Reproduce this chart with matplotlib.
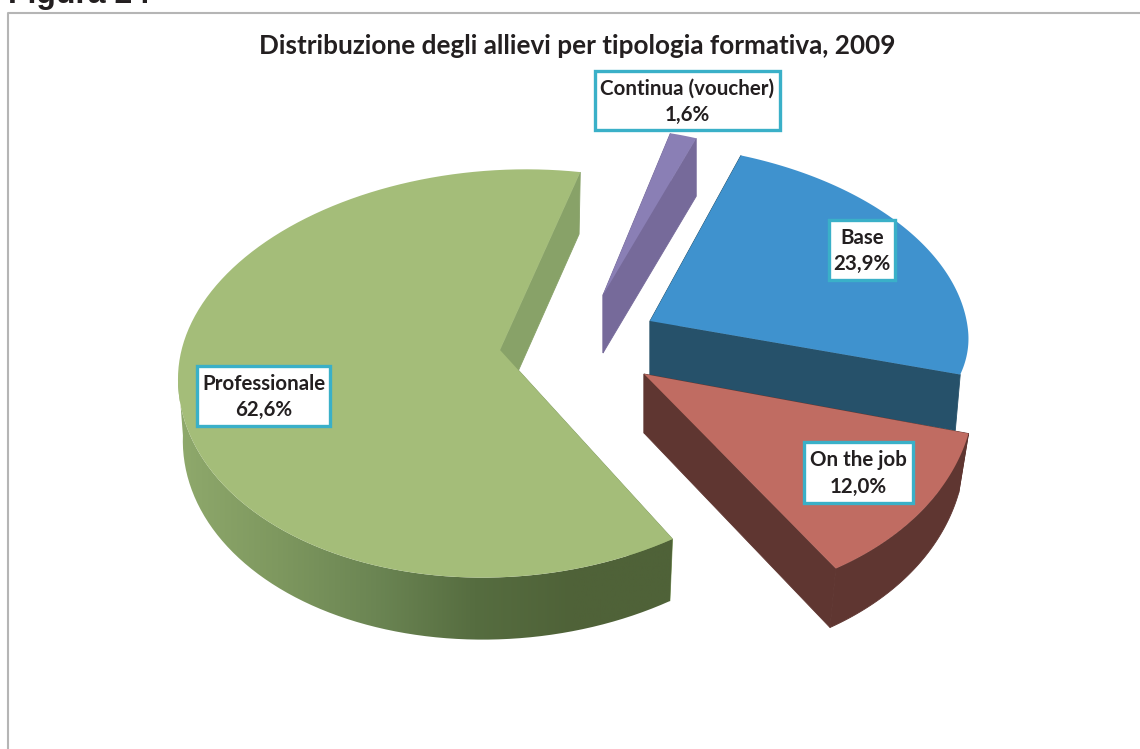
import matplotlib
matplotlib.use("Agg")
import matplotlib.pyplot as plt
import numpy as np
from matplotlib.colors import LinearSegmentedColormap
from matplotlib.patches import Polygon, Rectangle

# data
categories = ["Base", "On the job", "Professionale", "Continua (voucher)"]
shares = [23.9, 12.0, 62.6, 1.6]
title = "Distribuzione degli allievi per tipologia formativa, 2009"
figure_label = "Figura 24"

# look of each slice, same order as categories
apex_xy = [(650, 321), (644, 374), (500, 350), (603, 295)]
rim_center = [(650, 330), (644, 369), (503, 365), (603, 295)]
radius_x = [318, 330, 325, 270]
radius_back = [186, 184, 195, 167]
radius_front = [160, 232, 212, 227]
shear = [0.108, 0.117, 0.02, 0.0]
tilt = [0.0, 0.0, -0.05, 0.0]
depth = [56, 59, 62, 58]
taper = [0.016, 0.03, 0.015, 0.0]
show_wall = [False, True, True, False]
top_colors = ["#3f92ce", "#c06c62", "#a4bd79", "#8a7fb5"]
side_colors = ["#26516a", "#5f3631", "#88a268", "#766a9a"]
label_boxes = [(829, 220, 895, 280), (804, 442, 913, 503), (197, 366, 330, 426), (595, 71, 780, 130)]
START_ANGLE = 20.2

FONT = "Lato"
EDGE = "#3ab0c8"


def rim(i, t0, t1, n=120):
    """Outer edge of slice i between two angles (degrees, clockwise from top)."""
    t = np.radians(np.linspace(t0, t1, n))
    c = np.cos(t)
    dy = -np.where(c > 0, radius_back[i], radius_front[i]) * c
    sx = radius_x[i] * np.sin(t)
    return rim_center[i][0] + sx + shear[i] * dy, rim_center[i][1] + tilt[i] * sx + dy


def lower(i, x, y):
    """Same points on the underside of the slice, which is a bit narrower."""
    return x - taper[i] * (x - apex_xy[i][0]), y + depth[i]


fig = plt.figure(figsize=(11.4, 7.49), dpi=100)
ax = fig.add_axes([0, 0, 1, 1])

fracs = np.array(shares) / sum(shares) * 360
starts = START_ANGLE + np.concatenate([[0], np.cumsum(fracs)[:-1]])

for i in [3, 2, 0, 1]:
    t0, t1 = starts[i], starts[i] + fracs[i]
    x, y = rim(i, t0, t1)
    ax_, ay_ = apex_xy[i]

    # cut faces
    for ex, ey in [(x[0], y[0]), (x[-1], y[-1])]:
        lx, ly = lower(i, ex, ey)
        ax.add_patch(Polygon([(ax_, ay_), (ex, ey), (lx, ly), (ax_, ay_ + depth[i])],
                             fc=side_colors[i], ec=side_colors[i], lw=0.6, zorder=i + 1))

    # outer wall, only the part facing the viewer
    if show_wall[i]:
        front = np.cos(np.radians(np.linspace(t0, t1, 120))) < 0.05
        lx, ly = lower(i, x[front], y[front])
        wall = np.column_stack([np.r_[x[front], lx[::-1]], np.r_[y[front], ly[::-1]]])
        if categories[i] == "Professionale":
            cmap = LinearSegmentedColormap.from_list(
                "wall", ["#8fa96c", "#7e985f", "#6b8553", "#566d40", "#4f6238", "#4f6238"])
            patch = Polygon(wall, fc="none", ec="none", zorder=i + 1)
            ax.add_patch(patch)
            im = ax.imshow(np.linspace(0, 1, 256)[None, :], cmap=cmap, aspect="auto",
                           extent=(wall[:, 0].min(), wall[:, 0].max(), 650, 350),
                           zorder=i + 1)
            im.set_clip_path(patch)
        else:
            ax.add_patch(Polygon(wall, fc=side_colors[i], ec=side_colors[i], lw=0.6, zorder=i + 1))

    # top face
    ax.add_patch(Polygon(np.column_stack([np.r_[ax_, x], np.r_[ay_, y]]),
                         fc=top_colors[i], ec="none", zorder=i + 1.5))

# data labels
for name, value, box in zip(categories, shares, label_boxes):
    x0, y0, x1, y1 = box
    ax.add_patch(Rectangle((x0, y0), x1 - x0, y1 - y0, fc="white", ec=EDGE, lw=2.4, zorder=10))
    ax.text((x0 + x1) / 2, (y0 + y1) / 2 + 1, f"{name}\n{value:.1f}%".replace(".", ","),
            ha="center", va="center", fontsize=14.8, fontweight="bold", family=FONT,
            color="#231f20", linespacing=1.38, zorder=11)

# chart frame, runs off the picture at the right and at the bottom
ax.plot([8, 8, 1150], [760, 12.5, 12.5], color="#b5b5b5", lw=1.5, zorder=0)

ax.text(577, 46, title, ha="center", va="center", fontsize=18.8, fontweight="bold",
        family=FONT, color="#231f20")
ax.text(8, 3, figure_label, ha="left", va="baseline", fontsize=23, fontweight="bold",
        family="Liberation Sans", color="#231f20")

ax.set_xlim(0, 1140)
ax.set_ylim(749, 0)
ax.axis("off")

fig.savefig("out.png", dpi=100)
